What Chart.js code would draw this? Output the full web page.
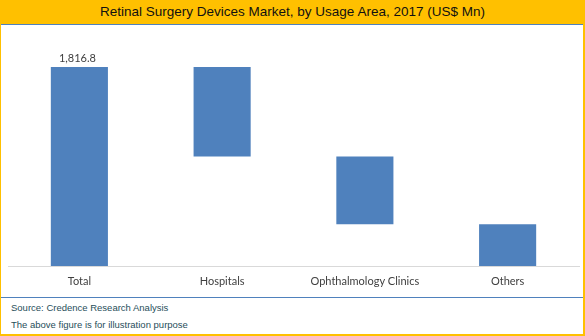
<!DOCTYPE html>
<html>
<head>
<meta charset="utf-8">
<script src="https://cdn.jsdelivr.net/npm/chart.js@4.4.1/dist/chart.umd.min.js"></script>
<style>
  html, body { margin: 0; padding: 0; background: #fff; }
  #frame { position: relative; width: 585px; height: 336px; overflow: hidden; background: #fff; }
  #title { position: absolute; left: 0; top: 0; width: 585px; height: 24px; background: #FFC000;
           font-family: "Liberation Sans", Arial, sans-serif; font-size: 13.5px; color: #111;
           text-align: center; line-height: 23px; }
  #titleLine { position: absolute; left: 1px; top: 24px; width: 582px; height: 1px; background: #4F81BD; }
  #chartBox { position: absolute; left: 0; top: 25px; width: 585px; height: 272px; }
  #sepLine { position: absolute; left: 1px; top: 297px; width: 582px; height: 1px; background: #4F81BD; }
  .foot { position: absolute; left: 11px; font-family: "Liberation Sans", Arial, sans-serif;
          font-size: 9.5px; color: #1F4E5A; white-space: nowrap; line-height: 11px; }
  #bL { position: absolute; left: 0; top: 0; width: 1px; height: 336px; background: #FFC000; }
  #bR { position: absolute; left: 583px; top: 0; width: 2px; height: 336px; background: #FFC000; }
  #bB { position: absolute; left: 0; top: 334px; width: 585px; height: 2px; background: #FFC000; }
</style>
</head>
<body>
<div id="frame">
  <div id="title">Retinal Surgery Devices Market, by Usage Area, 2017 (US$ Mn)</div>
  <div id="titleLine"></div>
  <div id="chartBox"><canvas id="c"></canvas></div>
  <div id="sepLine"></div>
  <div class="foot" style="top:302px">Source: Credence Research Analysis</div>
  <div class="foot" style="top:319px">The above figure is for illustration purpose</div>
  <div id="bL"></div><div id="bR"></div><div id="bB"></div>
</div>
<script>
const categories = ["Total", "Hospitals", "Ophthalmology Clinics", "Others"];
const values = [1816.8, 817.6, 617.7, 381.5];
const totalLabel = "1,816.8";

// waterfall ranges built from values
const ranges = [];
let level = values[0];
ranges.push([0, values[0]]);
for (let i = 1; i < values.length; i++) {
  const top = level;
  level = level - values[i];
  ranges.push([Math.max(level, 0), top]);
}

const labelPlugin = {
  id: 'totalLabel',
  afterDatasetsDraw(chart) {
    const meta = chart.getDatasetMeta(0);
    const bar = meta.data[0];
    const ctx = chart.ctx;
    ctx.save();
    ctx.font = '11px Lato, "Open Sans", sans-serif';
    ctx.fillStyle = '#404040';
    ctx.textAlign = 'center';
    ctx.textBaseline = 'bottom';
    ctx.fillText(totalLabel, bar.x - 2, bar.y - 3);
    ctx.restore();
  }
};

new Chart(document.getElementById('c'), {
  type: 'bar',
  data: {
    labels: categories,
    datasets: [{
      data: ranges,
      backgroundColor: '#4F81BD',
      borderWidth: 0,
      categoryPercentage: 1.0,
      barPercentage: 0.4
    }]
  },
  options: {
    responsive: true,
    maintainAspectRatio: false,
    animation: false,
    layout: { padding: { left: 8, right: 6, top: 22, bottom: 0 } },
    plugins: { legend: { display: false }, tooltip: { enabled: false } },
    scales: {
      x: {
        grid: { display: false, drawTicks: false },
        border: { display: true, color: '#D9D9D9', width: 1 },
        ticks: { color: '#404040', font: { family: 'Lato, "Open Sans", sans-serif', size: 11 }, padding: 9, maxRotation: 0, autoSkip: false },
        afterFit(scale) { scale.height = 31; }
      },
      y: {
        display: false,
        min: 0,
        max: 2000
      }
    }
  },
  plugins: [labelPlugin]
});
</script>
</body>
</html>
